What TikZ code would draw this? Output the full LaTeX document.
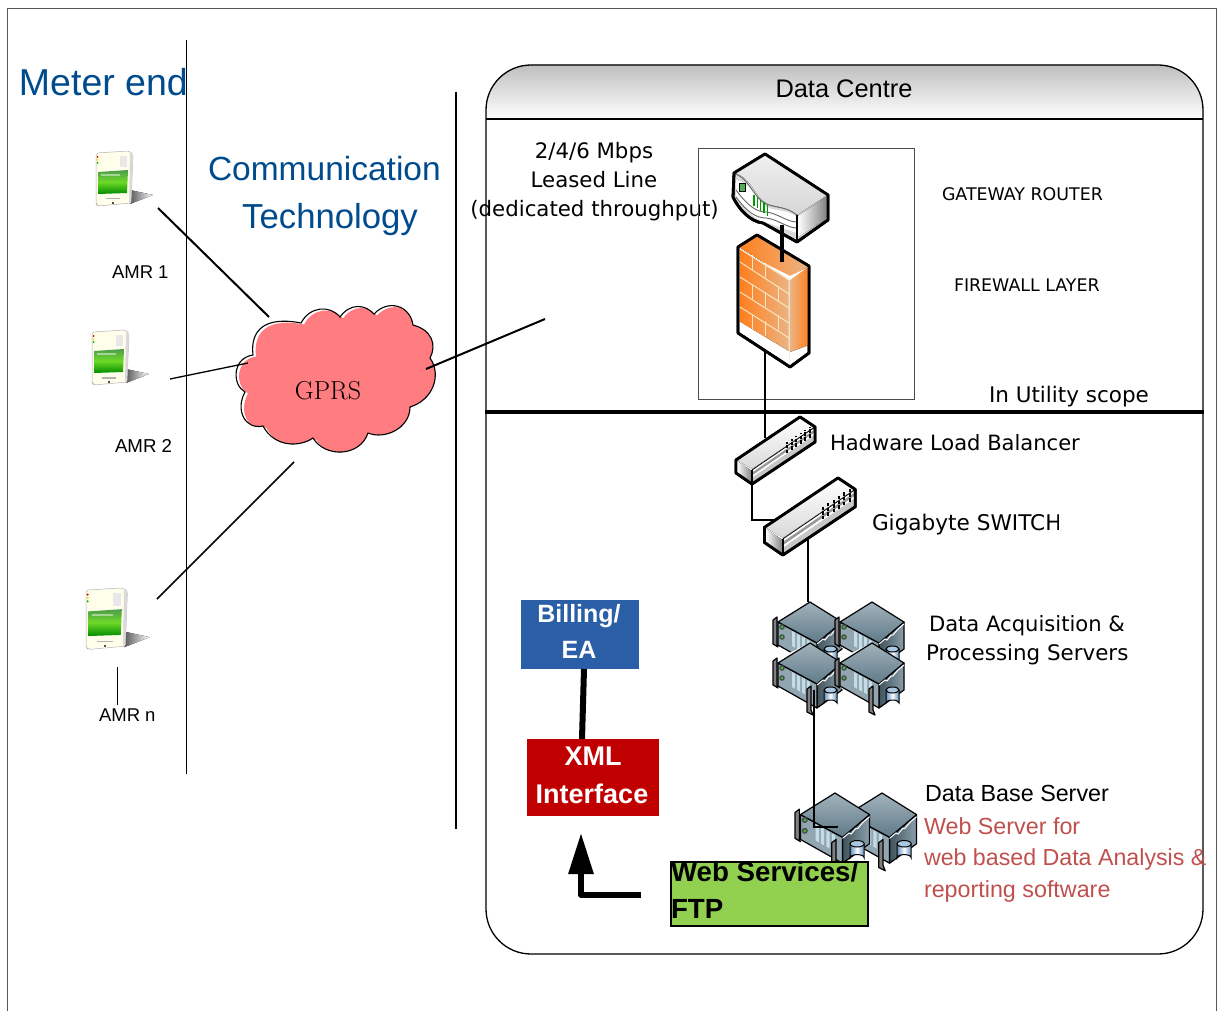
\documentclass[tikz,border=0pt]{standalone}
\usepackage{fontspec}
\setmainfont{Liberation Sans}
\newfontfamily\djf{DejaVu Sans}
\newfontfamily\lmf{Latin Modern Roman}
\newcommand{\fs}[1]{\fontsize{#1}{#1}\selectfont}
\usetikzlibrary{arrows.meta}
\definecolor{titleblue}{HTML}{004B8D}
\definecolor{redtext}{HTML}{C0504D}
\definecolor{cloudpink}{HTML}{FF7C80}
\definecolor{srvgray}{HTML}{64808F}
\definecolor{cylblue}{HTML}{5F8FBF}
\definecolor{cyltop}{HTML}{A9C6E2}
\definecolor{slot}{HTML}{C3DCE6}
\definecolor{fwstrong}{HTML}{FF7F1E}
\definecolor{fwlight}{HTML}{EBB483}
\definecolor{brick}{HTML}{F7E6C4}
\tikzset{
  lbl/.style={anchor=base west,inner sep=0pt,outer sep=0pt},
  lblc/.style={anchor=base,inner sep=0pt,outer sep=0pt},
  conn/.style={draw=black,line width=1.2pt},
  outl/.style={draw=black,line width=2.8pt,line join=round},
  srvoutl/.style={draw=black,line width=1.2pt,line join=round},
  block/.style={inner sep=0pt,outer sep=0pt},
  pics/srv/.style={code={
    \fill[white] (-33,16) -- (0,0) -- (32,20) -- (32,48) -- (7,66) -- (-33,44) -- cycle;
    \path[srvoutl,left color=srvgray!65!black,right color=srvgray!75!white] (7,41) -- (32,20) -- (32,47) -- (7,65) -- cycle;
    \path[srvoutl,fill=srvgray!70!white] (-32,20) -- (7,41) -- (7,65) -- (-32,43) -- cycle;
    \path[srvoutl,top color=srvgray!60!white,bottom color=srvgray!95!black] (0,0) -- (32,20) -- (7,41) -- (-32,20) -- cycle;
    \path[draw=white,line width=1pt] (7,42) -- (13,37) -- (15,38) -- (19,33) -- (21,33) -- (26,27) -- (32,22);
    \foreach \k in {0,1,2,3}{\fill[slot] (-18+5*\k,{29+2.8*\k}) -- ++(3,1.7) -- ++(0,15) -- ++(-3,-1.7) -- cycle;}
    \fill[black!70] (-28,25) circle (2.8); \fill[green!60!gray] (-28,25) circle (1.4);
    \fill[black!70] (-28,35) circle (2.8); \fill[green!60!gray] (-28,35) circle (1.4);
    \path[srvoutl,fill=black!50] (-37,18) -- (-33,15) -- (-33,43) -- (-32,45) -- (-37,42) -- cycle;
    \path[srvoutl,fill=black!50] (-3,46) -- (1,43) -- (1,67) -- (3,72) -- (-3,69) -- cycle;
    \path[draw=black,line width=1pt,left color=cylblue,right color=cylblue,middle color=white] (14,47) -- (14,60) arc[start angle=180,end angle=360,x radius=6.5,y radius=3] -- (27,47) -- cycle;
    \path[draw=black,line width=1pt,fill=cyltop] (20.5,47) ellipse [x radius=6.5,y radius=3];
  }},
  pics/swt/.style={code={
    \path[outl,fill=white] (-64,43) -- (0,0) -- (15,10) -- (15,25) -- (-48,67) -- (-64,56) -- cycle;
    \fill[top color=white,bottom color=black!15] (-63,43) -- (0,1) -- (14,10) -- (-48,52) -- cycle;
    \fill[black!40] (-47,55) -- (14,13) -- (14,16) -- (-47,58) -- cycle;
    \fill[white] (-47,58) -- (14,16) -- (14,18) -- (-47,60) -- cycle;
    \fill[black!22] (-47,60) -- (14,18) -- (14,24) -- (-47,66) -- cycle;
    \fill[left color=white,right color=black!50] (-63,44) -- (-48,54) -- (-48,66) -- (-63,55) -- cycle;
    \foreach \k in {0,...,5}{\draw[black,line width=2pt,dash pattern=on 3.5pt off 1.2pt] ({-13+4.6*\k},{36-3.1*\k}) -- ++(0,-11);}
    \path[outl] (-64,43) -- (0,0) -- (15,10) -- (15,25) -- (-48,67) -- (-64,56) -- cycle;
    \draw[black,line width=.8pt] (-48,53) -- (15,10);
    \draw[black,line width=1.8pt] (-48,53) -- (-48,67);
  }},
  pics/meter/.style={code={
    \fill[left color=black!65,right color=white] (34,38) -- (57,43) -- (34,52) -- cycle;
    \path[draw=black!30,line width=.5pt,fill=white!92!yellow,rounded corners=2pt] (0,1) -- (33,-1) -- (37,2) -- (35,51) -- (2,54) -- (0,52) -- cycle;
    \fill[black!15] (34,0) -- (37,2) -- (35,51) -- (33,52) -- cycle;
    \fill[black!9] (24,4) rectangle (31,15);
    \fill[red!80!black] (1.5,5) circle (1); \fill[yellow!80!orange] (1.5,8) circle (1); \fill[green!70!black] (1.5,11) circle (1);
    \path[top color=green!45!black!70!white,bottom color=green!55!black,middle color=green!60!yellow!70!gray] (2,20) -- (32,18) -- (31,41) -- (2,42) -- cycle;
    \fill[white,opacity=.45] (5,22) rectangle (24,24);
    \fill[black!30] (10,46) rectangle (24,47.5);
    \fill[black!70] (16,50) rectangle (18,52);
  }}
}
\begin{document}
\begin{tikzpicture}[x=1pt,y=-1pt]
\useasboundingbox (0,0) rectangle (1224,1011);
% page frame
\draw[black!65,line width=1pt] (7,1011) -- (7,8.5) -- (1216,8.5) -- (1216,1011);
% data centre
\fill[top color=black!25,bottom color=white,rounded corners=45pt] (486,119) -- (486,65) -- (1203,65) -- (1203,119);
\draw[black,line width=1.3pt,rounded corners=45pt] (486,65) rectangle (1203,954);
\coordinate (hl) at (486,119); \coordinate (hr) at (1203,119);
\draw[black,line width=1.3pt] (hl) -- (hr);
\coordinate (sl) at (485,412); \coordinate (sr) at (1204,412);
\draw[black,line width=3.6pt] (sl) -- (sr);
\node[lblc,font=\fs{25.4}] (dc) at (844,98) {Data Centre};
% separators
\coordinate (v1t) at (186.5,40); \coordinate (v1b) at (186.5,774);
\coordinate (v2t) at (456,92); \coordinate (v2b) at (456,829);
\draw[black,line width=1.3pt] (v1t) -- (v1b);
\draw[black,line width=1.3pt] (v2t) -- (v2b);
% titles
\node[lbl,font=\fs{37.5},text=titleblue] (meterend) at (19,96) {Meter end};
\node[lbl,font=\fs{33.5},text=titleblue] (comm) at (208,181) {Communication};
\node[lblc,font=\fs{34.7},text=titleblue] (tech) at (330,229) {Technology};
% meters
\pic at (96,152) {meter};
\pic at (92,331) {meter};
\pic[scale=1.12] at (86,589) {meter};
\node[lbl,font=\fs{18.5}] (amr1) at (112,279) {AMR 1};
\node[lbl,font=\fs{18.7}] (amr2) at (115,452) {AMR 2};
\node[lbl,font=\fs{18.5}] (amrn) at (99,721) {AMR n};
\coordinate (mn) at (117,667); \coordinate (mnb) at (117,705);
\draw[black,line width=1pt] (mn) -- (mnb);
% cloud
\def\cloudpath{(253,355) .. controls (250,330) and (265,316) .. (301,323)
 .. controls (310,306) and (330,305) .. (340,317)
 .. controls (350,303) and (365,304) .. (374,314)
 .. controls (388,299) and (410,305) .. (413,325)
 .. controls (432,330) and (437,345) .. (430,358)
 .. controls (442,375) and (433,400) .. (410,407)
 .. controls (410,428) and (385,440) .. (368,433)
 .. controls (360,457) and (325,458) .. (313,438)
 .. controls (300,447) and (275,448) .. (263,426)
 .. controls (245,430) and (235,410) .. (245,392)
 .. controls (232,385) and (232,358) .. (253,355) -- cycle}
\begin{scope}
\clip \cloudpath;
\fill[cloudpink,shift={(3,1.5)}] \cloudpath;
\end{scope}
\draw[black,line width=1.1pt] \cloudpath;
\node[lblc,font={\lmf\fs{26}}] (gprs) at (328,399) {GPRS};
% cloud links
\coordinate (a1) at (158,208); \coordinate (c1) at (269,317);
\coordinate (a2) at (170,379); \coordinate (c2) at (248,363);
\coordinate (a3) at (157,599); \coordinate (c3) at (294,462);
\coordinate (c4) at (426,369); \coordinate (ll) at (545,319);
\draw[black,line width=2pt] (a1) -- (c1);
\draw[black,line width=1.3pt] (a2) -- (c2);
\draw[black,line width=1.5pt] (a3) -- (c3);
\draw[black,line width=2pt] (c4) -- (ll);
% leased line text
\node[lblc,font={\djf\fs{21.3}}] (t1) at (594,159) {2/4/6 Mbps};
\node[lblc,font={\djf\fs{21.3}}] (t2) at (594,188) {Leased Line};
\node[lblc,font={\djf\fs{21.3}}] (t3) at (594.5,217) {(dedicated throughput)};
% security box
\draw[black!70,line width=.8pt] (698,148) rectangle (914,399);
% router
\path[outl,fill=black!15] (734,173) -- (765,154) -- (828,195) -- (828,220) -- (797,242) -- (763,223) .. controls (750,222) and (738,208) .. (733,197) -- cycle;
\fill[top color=black!6,bottom color=black!16] (735,173) -- (765,155) -- (827,195) -- (797,215) .. controls (785,205) and (775,208) .. (766,203) .. controls (755,197) and (752,178) .. (735,173) -- cycle;
\fill[left color=white,right color=black!50] (798,216) -- (827,196) -- (827,219) -- (798,237) -- cycle;
\fill[white] (736,180) -- (736,196) .. controls (745,210) and (755,220) .. (765,222) -- (797,233) -- (797,217) .. controls (785,208) and (770,212) .. (762,204) .. controls (755,195) and (750,183) .. (736,180) -- cycle;
\draw[black!60,line width=.9pt] (736,197) .. controls (747,212) and (756,218) .. (766,218) .. controls (777,219) and (787,228) .. (797,228);
\draw[black!60,line width=.9pt] (736,190) .. controls (747,205) and (756,212) .. (766,212) .. controls (777,213) and (787,222) .. (797,222);
\draw[black!60,line width=.9pt] (736,174) .. controls (750,180) and (753,197) .. (766,204) .. controls (777,208) and (787,207) .. (797,215);
\fill[green!35!gray] (739,183) rectangle (745,191);
\draw[black,line width=.7pt] (739,183) rectangle (745,191);
\foreach \k in {0,1,2,3,4}{\draw[green!60!black,line width=1.3pt] ({754+3.3*\k},{195+2.5*\k}) -- ++(0,11);}
\path[outl] (734,173) -- (765,154) -- (828,195) -- (828,220) -- (797,242) -- (763,223) .. controls (750,222) and (738,208) .. (733,197) -- cycle;
\draw[black,line width=1.4pt] (797,215) -- (797,242);
% firewall
\path[outl,fill=white] (738,247) -- (757,235) -- (809,266) -- (809,353) -- (790,367) -- (738,333) -- cycle;
\fill[left color=fwlight,right color=fwstrong] (790,280) -- (809,266) -- (809,345) -- (790,352) -- cycle;
\fill[left color=fwstrong,right color=fwlight] (739,247) -- (757,236) -- (808,266) -- (790,279) -- cycle;
\fill[white] (760,261) -- (790,276) -- (807,268) -- (808,267) -- (790,280) -- cycle;
\fill[left color=fwstrong,right color=fwlight] (740,249) -- (789,280) -- (789,351) -- (740,322) -- cycle;
\begin{scope}[draw=brick,line width=1pt]
\draw (740,249) -- (789,280) -- (789,365);
\draw (740,262) -- (789,294);
\draw (740,277) -- (789,308);
\draw (740,292) -- (789,323);
\draw (740,307) -- (789,338);
\draw (752,255) -- (752,270); \draw (765,263) -- (765,278);
\draw (752,284) -- (752,299); \draw (765,292) -- (765,307);
\draw (778,286) -- (778,301); \draw (778,315) -- (778,330);
\draw (752,314) -- (752,329); \draw (765,321) -- (765,336);
\end{scope}
\fill[white] (740,322) -- (789,352) -- (789,364) -- (740,332) -- cycle;
\path[outl] (738,247) -- (757,235) -- (809,266) -- (809,353) -- (790,367) -- (738,333) -- cycle;
\coordinate (rf) at (782,225); \coordinate (fr) at (782,262);
\draw[black,line width=4pt] (rf) -- (fr);
\coordinate (fb) at (765,352); \coordinate (lbt) at (765,438);
\draw[conn] (fb) -- (lbt);
% labels
\node[lbl,font={\djf\fs{17.4}}] (gw) at (942,201) {GATEWAY ROUTER};
\node[lbl,font={\djf\fs{17.4}}] (fw) at (954,291) {FIREWALL LAYER};
\node[lbl,font={\djf\fs{21.5}}] (us) at (989,402) {In Utility scope};
\node[lbl,font={\djf\fs{21.05}}] (lb) at (830,450) {Hadware Load Balancer};
\begin{scope}
\clip (865,500) rectangle (1058,545);
\node[lbl,font={\djf\fs{21.6}}] (gs) at (872,530) {Gigabyte SWITCH};
\end{scope}
\node[lbl,font={\djf\fs{21.1}}] (da) at (929,631) {Data Acquisition \&};
\node[lbl,font={\djf\fs{21.4}}] (ps) at (926,660) {Processing Servers};
\node[lbl,font=\fs{23.3}] (dbs) at (925,801) {Data Base Server};
\node[lbl,font=\fs{23.3},text=redtext] (w1) at (924,834) {Web Server for};
\node[lbl,font=\fs{23.2},text=redtext] (w2) at (924,865) {web based Data Analysis \&};
\node[lbl,font=\fs{23.3},text=redtext] (w3) at (924,897) {reporting software};
% switches wiring
\coordinate (lbb) at (752,484); \coordinate (swl) at (780,520);
\draw[conn] (lbb) |- (swl);
\coordinate (swb) at (808,540); \coordinate (srvt) at (808,602);
\draw[conn] (swb) -- (srvt);
\pic at (800,417) {swt};
\pic[scale=1.15] at (838,478) {swt};
% servers
\pic at (810,602) {srv};
\pic at (872,602) {srv};
\coordinate (sa) at (814,690); \coordinate (sb) at (814,827); \coordinate (sc) at (838,827);
\pic at (810,643) {srv};
\pic at (872,643) {srv};
\pic[scale=1.08] at (882,793) {srv};
\pic[scale=1.08] at (835,793) {srv};
\draw[conn] (sa) |- (sc);
% colored blocks
\node[block,fill={rgb,255:red,42;green,95;blue,168},minimum width=118pt,minimum height=69pt] (bill) at (580,634.5) {};
\node[lblc,font=\bfseries\fs{25},text=white] (b1) at (579,622) {Billing/};
\node[lblc,font=\bfseries\fs{25},text=white] (b2) at (579,658) {EA};
\node[block,fill={rgb,255:red,192;green,0;blue,0},minimum width=132pt,minimum height=77pt] (xml) at (593,777.5) {};
\node[lblc,font=\bfseries\fs{27},text=white] (x1) at (593,765) {XML};
\node[lblc,font=\bfseries\fs{27},text=white] (x2) at (592,803) {Interface};
\node[block,fill={rgb,255:red,146;green,208;blue,80},draw=black,line width=1.2pt,minimum width=197pt,minimum height=64pt] (web) at (769.5,894) {};
\node[lbl,font=\bfseries\fs{27.7}] (w4) at (671,881) {Web Services/};
\node[lbl,font=\bfseries\fs{27.7}] (w5) at (671,918) {FTP};
\coordinate (bx) at (584,0); \coordinate (xx) at (582,0);
\draw[black,line width=6pt] (bill.south -| bx) -- (xml.north -| xx);
\coordinate (wa) at (641,895); \coordinate (wb) at (581,895); \coordinate (wc) at (581,833);
\draw[black,line width=6pt,line join=round,-{Triangle[length=41pt,width=24pt]}] (wa) -- (wb) -- (wc);
\end{tikzpicture}
\end{document}
